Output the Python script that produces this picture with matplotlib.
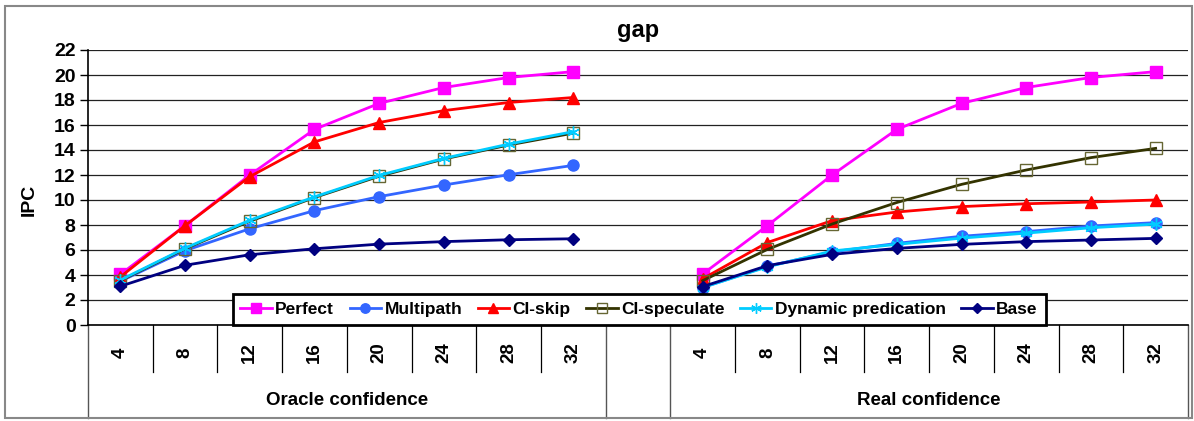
import numpy as np
import matplotlib
matplotlib.use("Agg")
import matplotlib.pyplot as plt
from matplotlib.patches import Rectangle

plt.rcParams['font.family'] = ['Liberation Sans', 'DejaVu Sans']
plt.rcParams['font.weight'] = 'bold'

# window sizes on the category axis
window = [4, 8, 12, 16, 20, 24, 28, 32]
groups = ["Oracle confidence", "Real confidence"]

# IPC per series, oracle confidence
oracle_perfect = [4.05, 7.95, 12.0, 15.65, 17.73, 19.0, 19.8, 20.27]
oracle_multipath = [3.5, 5.95, 7.7, 9.15, 10.27, 11.2, 12.02, 12.77]
oracle_cskip = [3.85, 7.95, 11.87, 14.65, 16.2, 17.15, 17.8, 18.2]
oracle_cspec = [3.55, 6.1, 8.3, 10.2, 11.9, 13.28, 14.4, 15.35]
oracle_dynpred = [3.6, 6.15, 8.38, 10.25, 11.97, 13.33, 14.47, 15.47]
oracle_base = [3.1, 4.78, 5.62, 6.1, 6.47, 6.67, 6.82, 6.9]

# IPC per series, real confidence
real_perfect = [4.08, 7.95, 12.0, 15.65, 17.73, 19.0, 19.8, 20.27]
real_multipath = [3.0, 4.7, 5.85, 6.53, 7.1, 7.47, 7.92, 8.19]
real_cskip = [3.7, 6.6, 8.35, 9.04, 9.47, 9.7, 9.84, 10.0]
real_cspec = [3.55, 6.05, 8.08, 9.8, 11.25, 12.4, 13.39, 14.13]
real_dynpred = [3.0, 4.65, 5.92, 6.45, 6.95, 7.35, 7.78, 8.07]
real_base = [3.07, 4.75, 5.65, 6.13, 6.45, 6.67, 6.8, 6.93]

series = [
    ("Perfect", oracle_perfect, real_perfect,
     dict(color="#FF00FF", marker="s", ms=8, mfc="#FF00FF", mec="#FF00FF")),
    ("Multipath", oracle_multipath, real_multipath,
     dict(color="#3366FF", marker="o", ms=8, mfc="#3366FF", mec="#3366FF")),
    ("CI-skip", oracle_cskip, real_cskip,
     dict(color="#FF0000", marker="^", ms=8, mfc="#FF0000", mec="#FF0000")),
    ("CI-speculate", oracle_cspec, real_cspec,
     dict(color="#333300", marker="s", ms=8, mfc="none", mec="#666633", mew=1.0)),
    ("Dynamic predication", oracle_dynpred, real_dynpred,
     dict(color="#00CCFF", marker=(6, 2, 0), ms=9, mec="#00CCFF", mew=1.0)),
    ("Base", oracle_base, real_base,
     dict(color="#000080", marker="D", ms=6, mfc="#000080", mec="#000080")),
]

n = len(window)
x_oracle = np.arange(n) + 0.5
x_real = np.arange(n + 1, 2 * n + 1) + 0.5

fig = plt.figure(figsize=(11.94, 4.21), dpi=100)
ax = fig.add_axes([88 / 1194, 96 / 421, 1100 / 1194, 275 / 421])

for name, yo, yr, style in series:
    ax.plot(x_oracle, yo, lw=2, label=name, **style)
    ax.plot(x_real, yr, lw=2, **style)

ax.set_xlim(0, 2 * n + 1)
ax.set_ylim(0, 22)
ax.set_yticks(np.arange(0, 23, 2))
ax.tick_params(axis='y', labelsize=14, length=6, width=1, pad=3)
ax.yaxis.grid(True, color="#222222", lw=0.9)
ax.set_axisbelow(True)
ax.set_xticks([])
for s in ["top", "right"]:
    ax.spines[s].set_visible(False)
ax.spines["left"].set_linewidth(1.2)
ax.spines["bottom"].set_linewidth(1.2)

# category table under the plot
tr = ax.get_xaxis_transform()
for b in list(range(1, n)) + list(range(n + 2, 2 * n + 1)):
    ax.plot([b, b], [0, -0.171], color="black", lw=0.9, transform=tr, clip_on=False)
for b in [0, n, n + 1, 2 * n + 1]:
    ax.plot([b, b], [0, -0.338], color="#555555", lw=1.0, transform=tr, clip_on=False)
for xs in (x_oracle, x_real):
    for xv, w in zip(xs, window):
        ax.text(xv, -0.1, str(w), transform=tr, rotation=90, ha="center",
                va="center", fontsize=13.5, fontweight="bold")
ax.text(n / 2, -0.273, groups[0], transform=tr, ha="center", va="center",
        fontsize=13.5, fontweight="bold")
ax.text(n + 1 + n / 2, -0.273, groups[1], transform=tr, ha="center", va="center",
        fontsize=13.5, fontweight="bold")

fig.text(29 / 1194, 1 - 200 / 421, "IPC", rotation=90, ha="center", va="center",
         fontsize=14, fontweight="bold")
fig.text(638 / 1194, 1 - 30 / 421, "gap", ha="center", va="center",
         fontsize=17, fontweight="bold")

leg = ax.legend(loc="center", bbox_to_anchor=(0.501, 0.055), ncol=6,
                fontsize=12.5, frameon=True, fancybox=False, handlelength=1.8,
                handletextpad=0.2, columnspacing=0.9, borderpad=0.45,
                markerscale=0.85)
leg.get_frame().set_edgecolor("black")
leg.get_frame().set_linewidth(2)
leg.get_frame().set_alpha(1)

fig.patches.append(Rectangle((5 / 1194, 3 / 421), 1187 / 1194, 412 / 421,
                             transform=fig.transFigure, fill=False,
                             edgecolor="#888888", lw=1.5))

fig.savefig("out.png", dpi=100)
